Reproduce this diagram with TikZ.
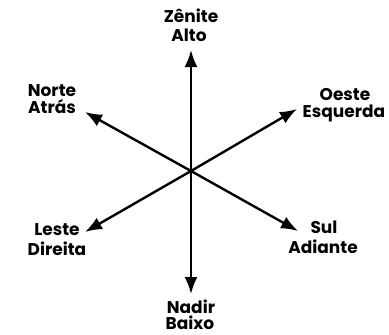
\documentclass[tikz,border=0pt]{standalone}
\usepackage{fontspec}
\setmainfont{Poppins}
\usetikzlibrary{arrows.meta}
\tikzset{
  axis/.style={line width=2.4pt, -{Latex[length=17pt,width=13pt]}},
  lbl/.style={anchor=base, inner sep=0pt, font=\fontsize{17}{20}\selectfont\bfseries}
}
\begin{document}
\begin{tikzpicture}[x=1pt,y=-1pt]
\useasboundingbox[fill=white] (0,0) rectangle (389,335);
\coordinate (c) at (191,171);
\coordinate (up) at (191,50);
\coordinate (down) at (191,294);
\coordinate (ul) at (85,112);
\coordinate (ur) at (297,109);
\coordinate (ll) at (85,232);
\coordinate (lr) at (298,231);
\foreach \t in {up,down,ul,ur,ll,lr} \draw[axis] (c) -- (\t);
\node[lbl] (zenite) at (191,22) {Zênite};
\node[lbl] (alto) at (189,41) {Alto};
\node[lbl] (norte) at (52,96) {Norte};
\node[lbl] (atras) at (52,113) {Atrás};
\node[lbl] (oeste) at (345,100) {Oeste};
\node[lbl] (esquerda) at (344,117) {Esquerda};
\node[lbl] (leste) at (57,235) {Leste};
\node[lbl] (direita) at (57,255) {Direita};
\node[lbl] (sul) at (324,233) {Sul};
\node[lbl] (adiante) at (323,253) {Adiante};
\node[lbl] (nadir) at (191,313) {Nadir};
\node[lbl] (baixo) at (190,329) {Baixo};
\end{tikzpicture}
\end{document}
